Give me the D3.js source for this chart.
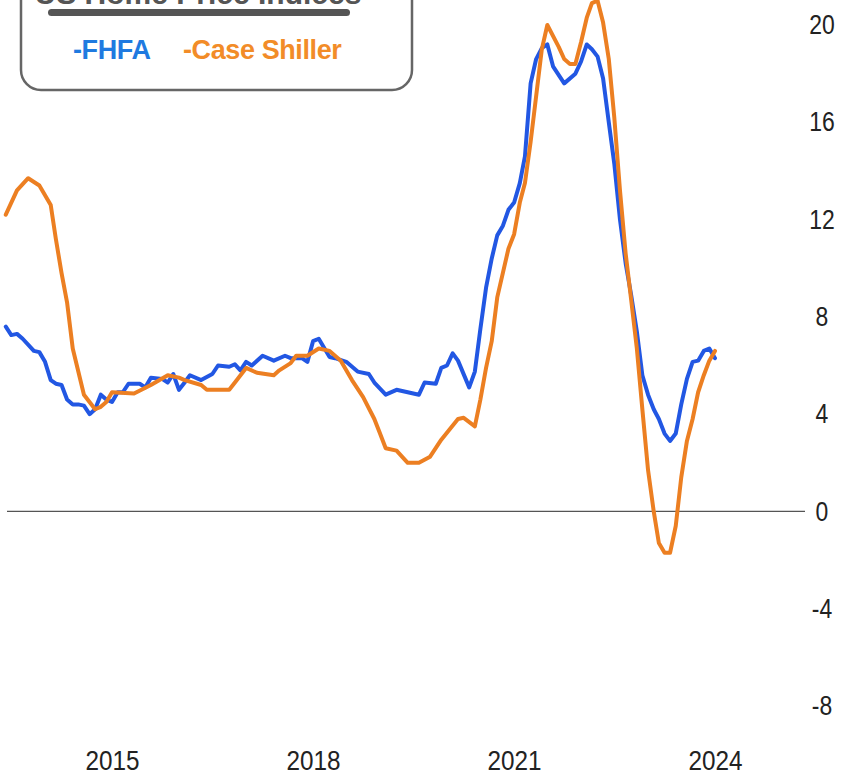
<!DOCTYPE html>
<html lang="en">
<head>
<meta charset="UTF-8">
<title>US Home Price Indices</title>
<script src="https://d3js.org/d3.v7.min.js"></script>
<style>
    body { margin: 0; background: #fff; }
    svg { display: block; font-family: "Liberation Sans Narrow", "Liberation Sans", Arial, sans-serif; }
    .line { fill: none; stroke-width: 4px; stroke-linejoin: round; stroke-linecap: round; }
    .tick-label { font-size: 27px; fill: #222; }
</style>
</head>
<body>
<div id="chart"></div>
<script>
// FHFA y/y % change
const fhfa = [
    ["2013-06", 7.6], ["2013-07", 7.25], ["2013-08", 7.3], ["2013-09", 7.1], ["2013-11", 6.6],
    ["2013-12", 6.55], ["2014-01", 6.15], ["2014-02", 5.4], ["2014-03", 5.25], ["2014-04", 5.2],
    ["2014-05", 4.6], ["2014-06", 4.4], ["2014-07", 4.4], ["2014-08", 4.35], ["2014-09", 4.0],
    ["2014-10", 4.2], ["2014-11", 4.8], ["2014-12", 4.6], ["2015-01", 4.5], ["2015-02", 4.9],
    ["2015-03", 4.9], ["2015-04", 5.25], ["2015-06", 5.25], ["2015-07", 5.1], ["2015-08", 5.5],
    ["2015-10", 5.45], ["2015-11", 5.3], ["2015-12", 5.65], ["2016-01", 5.0], ["2016-02", 5.3],
    ["2016-03", 5.6], ["2016-05", 5.4], ["2016-07", 5.65], ["2016-08", 6.0], ["2016-10", 5.95],
    ["2016-11", 6.05], ["2016-12", 5.8], ["2017-01", 6.15], ["2017-02", 6.0], ["2017-04", 6.4],
    ["2017-06", 6.2], ["2017-08", 6.4], ["2017-09", 6.3], ["2017-11", 6.3], ["2017-12", 6.15],
    ["2018-01", 7.0], ["2018-02", 7.1], ["2018-04", 6.35], ["2018-05", 6.3], ["2018-07", 6.15],
    ["2018-09", 5.75], ["2018-11", 5.65], ["2018-12", 5.3], ["2019-02", 4.8], ["2019-04", 5.0],
    ["2019-06", 4.9], ["2019-08", 4.8], ["2019-09", 5.3], ["2019-11", 5.25], ["2019-12", 5.9],
    ["2020-01", 6.0], ["2020-02", 6.5], ["2020-03", 6.2], ["2020-05", 5.1], ["2020-06", 5.75],
    ["2020-07", 7.5], ["2020-08", 9.2], ["2020-09", 10.4], ["2020-10", 11.35], ["2020-11", 11.75],
    ["2020-12", 12.4], ["2021-01", 12.7], ["2021-02", 13.5], ["2021-03", 14.6], ["2021-04", 17.6],
    ["2021-05", 18.6], ["2021-06", 19.05], ["2021-07", 19.2], ["2021-08", 18.3], ["2021-10", 17.6],
    ["2021-12", 18.0], ["2022-01", 18.5], ["2022-02", 19.2], ["2022-03", 19.0], ["2022-04", 18.7],
    ["2022-05", 17.8], ["2022-06", 16.0], ["2022-07", 14.3], ["2022-08", 12.0], ["2022-09", 10.2],
    ["2022-10", 8.9], ["2022-11", 7.4], ["2022-12", 5.6], ["2023-01", 4.8], ["2023-02", 4.2],
    ["2023-03", 3.8], ["2023-04", 3.2], ["2023-05", 2.9], ["2023-06", 3.2], ["2023-07", 4.4],
    ["2023-08", 5.45], ["2023-09", 6.15], ["2023-10", 6.2], ["2023-11", 6.6], ["2023-12", 6.7],
    ["2024-01", 6.3]
];

// Case Shiller y/y % change
const caseShiller = [
    ["2013-06", 12.2], ["2013-08", 13.2], ["2013-10", 13.7], ["2013-12", 13.4], ["2014-01", 13.0],
    ["2014-02", 12.6], ["2014-03", 11.2], ["2014-04", 9.8], ["2014-05", 8.6], ["2014-06", 6.7],
    ["2014-08", 4.8], ["2014-10", 4.2], ["2014-11", 4.3], ["2014-12", 4.5], ["2015-01", 4.9],
    ["2015-05", 4.85], ["2015-08", 5.2], ["2015-11", 5.6], ["2016-01", 5.5], ["2016-02", 5.4],
    ["2016-05", 5.2], ["2016-06", 5.0], ["2016-10", 5.0], ["2016-11", 5.3], ["2017-01", 5.9],
    ["2017-03", 5.7], ["2017-06", 5.6], ["2017-07", 5.8], ["2017-09", 6.1], ["2017-10", 6.4],
    ["2017-12", 6.4], ["2018-02", 6.7], ["2018-04", 6.6], ["2018-06", 6.2], ["2018-08", 5.4],
    ["2018-10", 4.7], ["2018-12", 3.8], ["2019-01", 3.2], ["2019-02", 2.6], ["2019-04", 2.5],
    ["2019-06", 2.0], ["2019-08", 2.0], ["2019-10", 2.25], ["2019-12", 2.95], ["2020-03", 3.8],
    ["2020-04", 3.85], ["2020-06", 3.5], ["2020-07", 4.6], ["2020-08", 5.9], ["2020-09", 7.0],
    ["2020-10", 8.8], ["2020-12", 10.8], ["2021-01", 11.4], ["2021-02", 12.7], ["2021-03", 13.5],
    ["2021-04", 15.2], ["2021-06", 19.0], ["2021-07", 20.0], ["2021-09", 19.1], ["2021-10", 18.6],
    ["2021-11", 18.4], ["2021-12", 18.4], ["2022-01", 19.3], ["2022-02", 20.3], ["2022-03", 20.9],
    ["2022-04", 21.0], ["2022-05", 20.1], ["2022-06", 18.6], ["2022-07", 16.2], ["2022-08", 13.2],
    ["2022-09", 10.6], ["2022-10", 8.7], ["2022-11", 6.7], ["2022-12", 4.2], ["2023-01", 1.7],
    ["2023-02", 0.0], ["2023-03", -1.3], ["2023-04", -1.7], ["2023-05", -1.7], ["2023-06", -0.6],
    ["2023-07", 1.4], ["2023-08", 2.9], ["2023-09", 3.8], ["2023-10", 4.9], ["2023-11", 5.6],
    ["2023-12", 6.2], ["2024-01", 6.6]
];

const yTicks = [-8, -4, 0, 4, 8, 12, 16, 20];
const yearTicks = ["2015", "2018", "2021", "2024"];
const legendItems = [
    { label: "-FHFA", color: "#1f7ae0" },
    { label: "-Case Shiller", color: "#f28c28" }
];
const title = "US Home Price Indices";

const W = 861, H = 776;
const parseMonth = d3.timeParse("%Y-%m");
const parseYear = d3.timeParse("%Y");

const svg = d3.select("#chart").append("svg")
    .attr("width", W)
    .attr("height", H);

const x = d3.scaleTime()
    .domain([parseYear("2015"), parseYear("2024")])
    .range([112, 715]);

const y = d3.scaleLinear()
    .domain([-8, 20])
    .range([706, 25]);

// zero line
svg.append("line")
    .attr("x1", 7).attr("x2", 805)
    .attr("y1", y(0)).attr("y2", y(0))
    .attr("stroke", "#555")
    .attr("stroke-width", 1.3);

// right axis labels
const yAxis = d3.axisRight(y)
    .tickValues(yTicks)
    .tickFormat(d => String(d))
    .tickSize(0).tickPadding(0);
const yG = svg.append("g")
    .attr("transform", "translate(822,0)")
    .call(yAxis);
yG.select(".domain").remove();
yG.selectAll("text")
    .attr("class", "tick-label")
    .attr("text-anchor", "middle")
    .attr("transform", "scale(0.85,1)")
    .attr("font-family", null)
    .attr("font-size", null)
    .attr("fill", null);

// bottom axis labels
const xAxis = d3.axisBottom(x)
    .tickValues(yearTicks.map(parseYear))
    .tickFormat(d3.timeFormat("%Y"))
    .tickSize(0).tickPadding(0);
const xG = svg.append("g")
    .attr("transform", "translate(0,751)")
    .call(xAxis);
xG.select(".domain").remove();
xG.selectAll("text")
    .attr("class", "tick-label")
    .attr("transform", "scale(0.9,1)")
    .attr("font-family", null)
    .attr("font-size", null)
    .attr("fill", null);

// lines
const line = d3.line()
    .x(d => x(parseMonth(d[0])))
    .y(d => y(d[1]));

svg.append("path")
    .datum(fhfa)
    .attr("class", "line")
    .attr("stroke", "#2257e3")
    .attr("d", line);

svg.append("path")
    .datum(caseShiller)
    .attr("class", "line")
    .attr("stroke", "#ec7f22")
    .attr("d", line);

// legend box (its top runs off the frame, as in the source)
const legend = svg.append("g");
legend.append("rect")
    .attr("x", 21).attr("y", -40)
    .attr("width", 391).attr("height", 130)
    .attr("rx", 20)
    .attr("fill", "#fff")
    .attr("stroke", "#666")
    .attr("stroke-width", 2.5);

legend.append("text")
    .attr("x", 198).attr("y", 4)
    .attr("text-anchor", "middle")
    .attr("font-size", 30)
    .attr("font-weight", "bold")
    .attr("fill", "#555")
    .text(title);

legend.append("rect")
    .attr("x", 48).attr("y", 9)
    .attr("width", 302).attr("height", 7)
    .attr("rx", 3.5)
    .attr("fill", "#555");

legend.selectAll(".legend-label")
    .data(legendItems)
    .enter()
    .append("text")
    .attr("class", "legend-label")
    .attr("x", (d, i) => i === 0 ? 73 : 183)
    .attr("y", 59)
    .attr("font-size", 27)
    .attr("font-weight", "bold")
    .attr("letter-spacing", -0.4)
    .attr("fill", d => d.color)
    .text(d => d.label);
</script>
</body>
</html>
